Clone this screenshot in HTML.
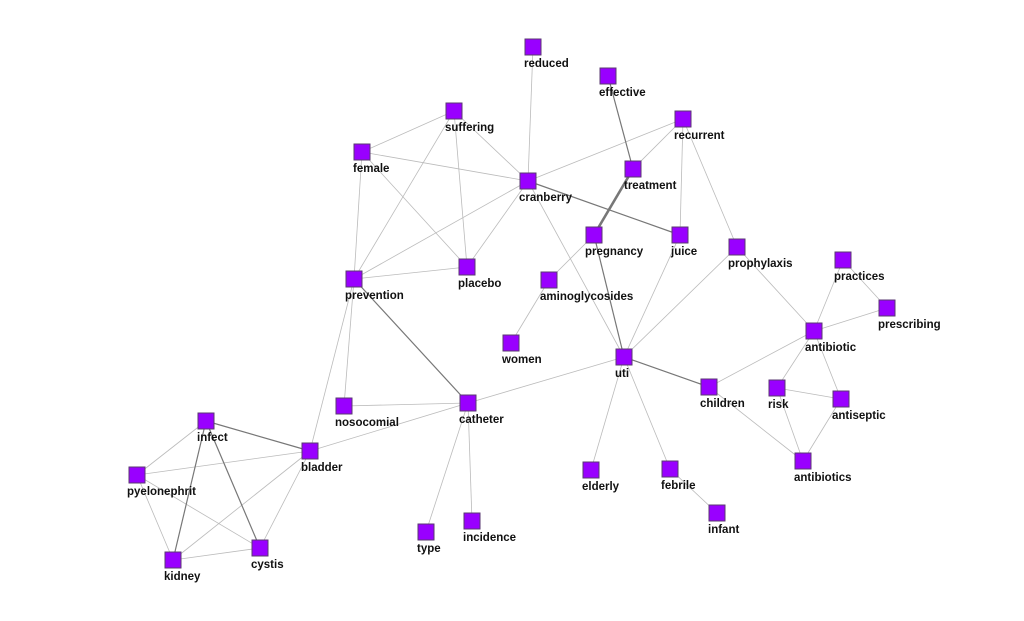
<!DOCTYPE html>
<html><head><meta charset="utf-8"><style>
html,body{margin:0;padding:0;background:#fff;width:1024px;height:621px;overflow:hidden}
svg text{font-family:"Liberation Sans",sans-serif;font-weight:bold;font-size:11.5px;fill:#111}
rect{fill:#9900ff;stroke:#5a3a70;stroke-width:1}
</style></head><body>
<svg width="1024" height="621" xmlns="http://www.w3.org/2000/svg">
<g stroke="#bbb" stroke-width="0.8" fill="none">
<line x1="533" y1="47" x2="528" y2="181"/>
<line x1="683" y1="119" x2="633" y2="169"/>
<line x1="683" y1="119" x2="680" y2="235"/>
<line x1="683" y1="119" x2="737" y2="247"/>
<line x1="683" y1="119" x2="528" y2="181"/>
<line x1="454" y1="111" x2="362" y2="152"/>
<line x1="454" y1="111" x2="528" y2="181"/>
<line x1="454" y1="111" x2="467" y2="267"/>
<line x1="454" y1="111" x2="354" y2="279"/>
<line x1="362" y1="152" x2="528" y2="181"/>
<line x1="362" y1="152" x2="467" y2="267"/>
<line x1="362" y1="152" x2="354" y2="279"/>
<line x1="528" y1="181" x2="354" y2="279"/>
<line x1="528" y1="181" x2="467" y2="267"/>
<line x1="528" y1="181" x2="624" y2="357"/>
<line x1="594" y1="235" x2="549" y2="280"/>
<line x1="549" y1="280" x2="511" y2="343"/>
<line x1="680" y1="235" x2="624" y2="357"/>
<line x1="737" y1="247" x2="624" y2="357"/>
<line x1="737" y1="247" x2="814" y2="331"/>
<line x1="354" y1="279" x2="467" y2="267"/>
<line x1="354" y1="279" x2="344" y2="406"/>
<line x1="354" y1="279" x2="310" y2="451"/>
<line x1="344" y1="406" x2="468" y2="403"/>
<line x1="468" y1="403" x2="624" y2="357"/>
<line x1="468" y1="403" x2="310" y2="451"/>
<line x1="468" y1="403" x2="426" y2="532"/>
<line x1="468" y1="403" x2="472" y2="521"/>
<line x1="624" y1="357" x2="591" y2="470"/>
<line x1="624" y1="357" x2="670" y2="469"/>
<line x1="670" y1="469" x2="717" y2="513"/>
<line x1="709" y1="387" x2="814" y2="331"/>
<line x1="709" y1="387" x2="803" y2="461"/>
<line x1="814" y1="331" x2="843" y2="260"/>
<line x1="814" y1="331" x2="887" y2="308"/>
<line x1="843" y1="260" x2="887" y2="308"/>
<line x1="814" y1="331" x2="777" y2="388"/>
<line x1="814" y1="331" x2="841" y2="399"/>
<line x1="777" y1="388" x2="841" y2="399"/>
<line x1="777" y1="388" x2="803" y2="461"/>
<line x1="841" y1="399" x2="803" y2="461"/>
<line x1="206" y1="421" x2="137" y2="475"/>
<line x1="310" y1="451" x2="137" y2="475"/>
<line x1="310" y1="451" x2="173" y2="560"/>
<line x1="310" y1="451" x2="260" y2="548"/>
<line x1="137" y1="475" x2="173" y2="560"/>
<line x1="137" y1="475" x2="260" y2="548"/>
<line x1="173" y1="560" x2="260" y2="548"/>
</g>
<g stroke="#777" stroke-width="1.2" fill="none">
<line x1="608" y1="76" x2="633" y2="169"/>
<line x1="528" y1="181" x2="680" y2="235"/>
<line x1="594" y1="235" x2="624" y2="357"/>
<line x1="354" y1="279" x2="468" y2="403"/>
<line x1="624" y1="357" x2="709" y2="387"/>
<line x1="206" y1="421" x2="310" y2="451"/>
<line x1="206" y1="421" x2="173" y2="560"/>
<line x1="206" y1="421" x2="260" y2="548"/>
</g>
<line x1="633" y1="169" x2="594" y2="235" stroke="#777" stroke-width="2.6"/>
<g>
<rect x="525" y="39" width="16" height="16"/><text x="524" y="67">reduced</text>
<rect x="600" y="68" width="16" height="16"/><text x="599" y="96">effective</text>
<rect x="675" y="111" width="16" height="16"/><text x="674" y="139">recurrent</text>
<rect x="625" y="161" width="16" height="16"/><text x="624" y="189">treatment</text>
<rect x="446" y="103" width="16" height="16"/><text x="445" y="131">suffering</text>
<rect x="354" y="144" width="16" height="16"/><text x="353" y="172">female</text>
<rect x="520" y="173" width="16" height="16"/><text x="519" y="201">cranberry</text>
<rect x="586" y="227" width="16" height="16"/><text x="585" y="255">pregnancy</text>
<rect x="672" y="227" width="16" height="16"/><text x="671" y="255">juice</text>
<rect x="729" y="239" width="16" height="16"/><text x="728" y="267">prophylaxis</text>
<rect x="835" y="252" width="16" height="16"/><text x="834" y="280">practices</text>
<rect x="879" y="300" width="16" height="16"/><text x="878" y="328">prescribing</text>
<rect x="541" y="272" width="16" height="16"/><text x="540" y="300">aminoglycosides</text>
<rect x="346" y="271" width="16" height="16"/><text x="345" y="299">prevention</text>
<rect x="459" y="259" width="16" height="16"/><text x="458" y="287">placebo</text>
<rect x="503" y="335" width="16" height="16"/><text x="502" y="363">women</text>
<rect x="616" y="349" width="16" height="16"/><text x="615" y="377">uti</text>
<rect x="806" y="323" width="16" height="16"/><text x="805" y="351">antibiotic</text>
<rect x="701" y="379" width="16" height="16"/><text x="700" y="407">children</text>
<rect x="769" y="380" width="16" height="16"/><text x="768" y="408">risk</text>
<rect x="833" y="391" width="16" height="16"/><text x="832" y="419">antiseptic</text>
<rect x="336" y="398" width="16" height="16"/><text x="335" y="426">nosocomial</text>
<rect x="460" y="395" width="16" height="16"/><text x="459" y="423">catheter</text>
<rect x="198" y="413" width="16" height="16"/><text x="197" y="441">infect</text>
<rect x="302" y="443" width="16" height="16"/><text x="301" y="471">bladder</text>
<rect x="129" y="467" width="16" height="16"/><text x="127" y="495">pyelonephrit</text>
<rect x="583" y="462" width="16" height="16"/><text x="582" y="490">elderly</text>
<rect x="662" y="461" width="16" height="16"/><text x="661" y="489">febrile</text>
<rect x="795" y="453" width="16" height="16"/><text x="794" y="481">antibiotics</text>
<rect x="709" y="505" width="16" height="16"/><text x="708" y="533">infant</text>
<rect x="464" y="513" width="16" height="16"/><text x="463" y="541">incidence</text>
<rect x="418" y="524" width="16" height="16"/><text x="417" y="552">type</text>
<rect x="252" y="540" width="16" height="16"/><text x="251" y="568">cystis</text>
<rect x="165" y="552" width="16" height="16"/><text x="164" y="580">kidney</text>
</g>
</svg>
</body></html>
